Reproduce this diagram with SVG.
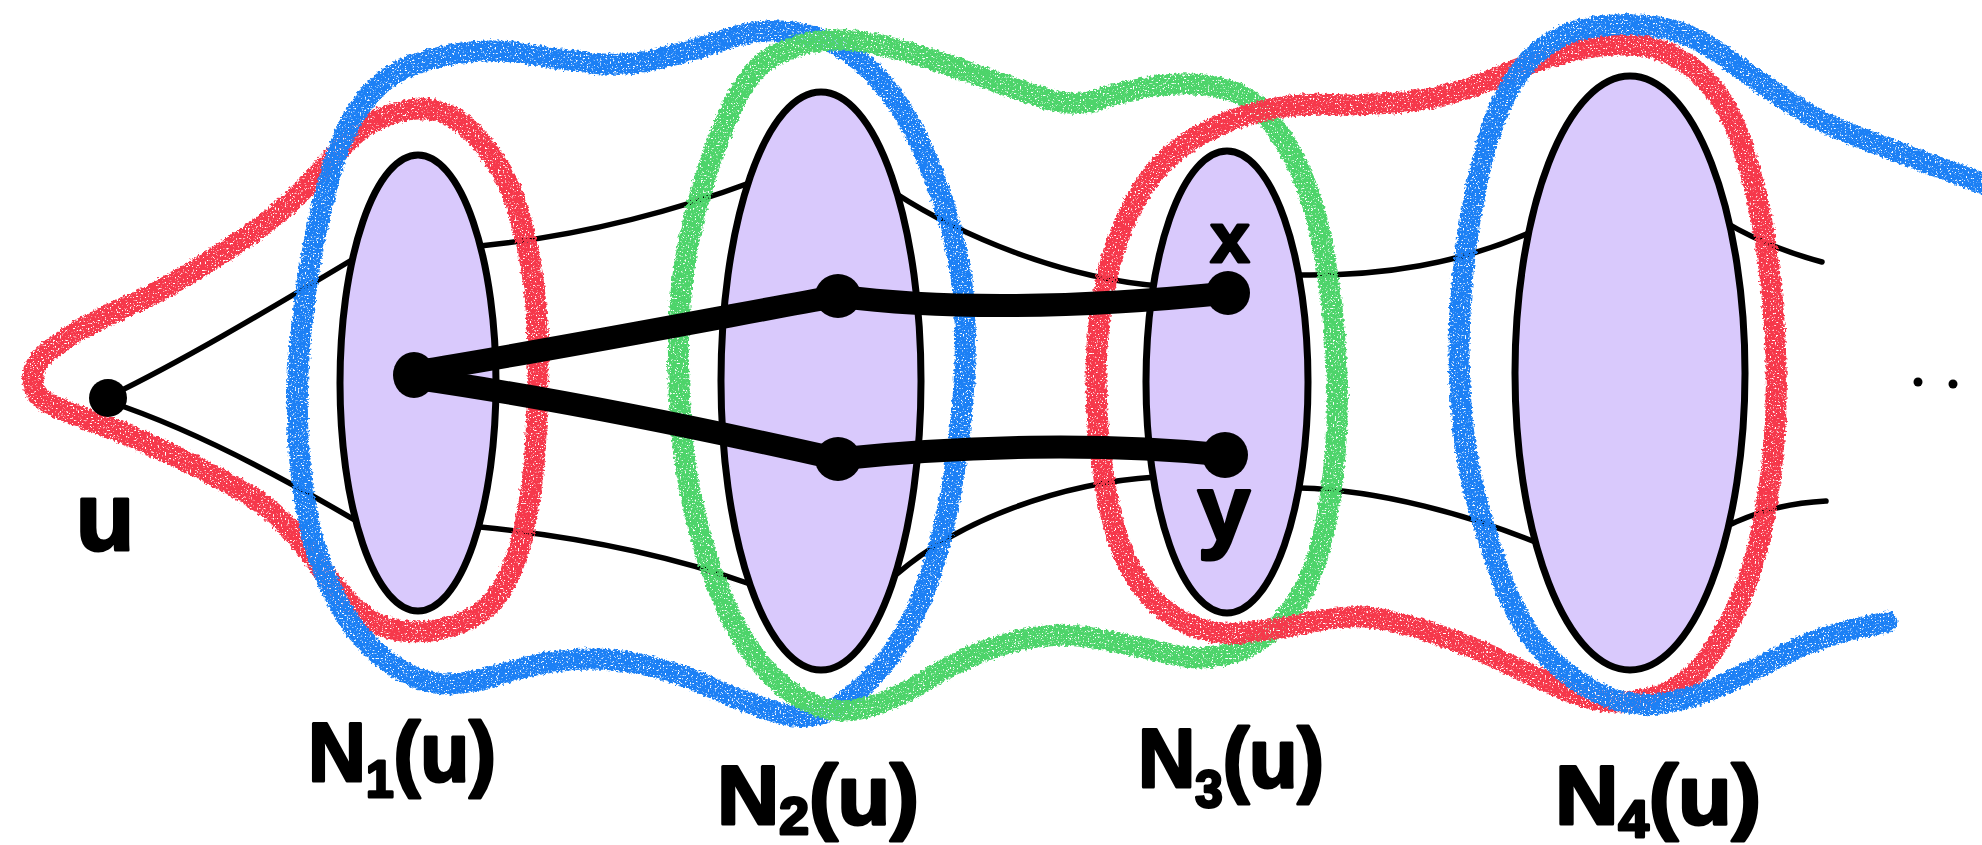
<svg xmlns="http://www.w3.org/2000/svg" width="1982" height="845" viewBox="0 0 1982 845">
<style>
.thin{fill:none;stroke:#000;stroke-width:5.5;stroke-linecap:round}
.thick{fill:none;stroke:#000;stroke-width:23;stroke-linecap:round}
.set{fill:#d9c9fc;stroke:#000;stroke-width:7}
.cr{fill:none;stroke-width:21;stroke-linejoin:round;stroke-linecap:round;filter:url(#crayon)}
.red{stroke:#f6374b}
.blue{stroke:#1a80f5}
.green{stroke:#4dd46b}
.lbl{font-family:"Liberation Sans",Arial,sans-serif;font-weight:bold;fill:#000;stroke:#000;stroke-width:3;stroke-linejoin:round}
</style>
<defs>
<filter id="crayon" x="-5%" y="-5%" width="110%" height="110%">
<feTurbulence type="fractalNoise" baseFrequency="0.35" numOctaves="2" seed="2" result="warp"/>
<feDisplacementMap in="SourceGraphic" in2="warp" scale="6" xChannelSelector="R" yChannelSelector="G" result="rough"/>
<feTurbulence type="fractalNoise" baseFrequency="0.6" numOctaves="2" seed="5" result="grain"/>
<feColorMatrix in="grain" type="matrix" values="0 0 0 0 0  0 0 0 0 0  0 0 0 0 0  7 0 0 0 -1.8" result="gmask"/>
<feComposite in="rough" in2="gmask" operator="in"/>
</filter>
</defs>
<rect width="1982" height="845" fill="#fff"/>

<g id="connectors-thin">
<path class="thin" d="M110,396 C180,362 260,315 355,258"/>
<path class="thin" d="M110,402 C180,425 270,470 358,522"/>
<path class="thin" d="M480,246 C560,238 650,220 752,182"/>
<path class="thin" d="M480,527 C560,535 660,552 750,584"/>
<path class="thin" d="M895,193 C960,235 1060,278 1160,286"/>
<path class="thin" d="M897,574 C960,520 1060,483 1156,477"/>
<path class="thin" d="M1300,275 C1380,276 1460,265 1540,228"/>
<path class="thin" d="M1300,488 C1380,490 1470,515 1545,546"/>
<path class="thin" d="M1725,222 C1755,240 1785,252 1822,262"/>
<path class="thin" d="M1725,527 C1760,510 1790,503 1826,501"/>
</g>

<g id="regions">
<path class="cr red" d="M35.5,366.5 Q40,356 64.5,339.5 Q89,323 122.5,308.5 Q156,294 189.5,273.5 Q223,253 250,234.5 Q277,216 299,194 Q321,172 339,150.5 Q357,129 379.5,118.5 Q402,108 424,109 Q446,110 464,125 Q482,140 497.5,164.5 Q513,189 522,224 Q531,259 534.5,291 Q538,323 538,363.5 Q538,404 535.5,444.5 Q533,485 525.5,522.5 Q518,560 504.5,584.5 Q491,609 468.5,619.5 Q446,630 424,631.5 Q402,633 384,626.5 Q366,620 348,601 Q330,582 317,563 Q304,544 286,525 Q268,506 245.5,493 Q223,480 196.5,466.5 Q170,453 141,440.5 Q112,428 85,418.5 Q58,409 47,402.5 Q36,396 33.5,386.5 Q31,377 35.5,366.5 Z"/>
<path class="cr blue" d="M361.5,105 Q379,81 401.5,70 Q424,59 457.5,53.5 Q491,48 524.5,53.5 Q558,59 591.5,63 Q625,67 660,58.5 Q695,50 728.5,38.5 Q762,27 795.5,32.5 Q829,38 851,54 Q873,70 891,94 Q909,118 924.5,153.5 Q940,189 951,229 Q962,269 964.5,309.5 Q967,350 962.5,404 Q958,458 947,512 Q936,566 918,606.5 Q900,647 875.5,673.5 Q851,700 828.5,711 Q806,722 772.5,711 Q739,700 705.5,685 Q672,670 637.5,663.5 Q603,657 569.5,660 Q536,663 502.5,673.5 Q469,684 446.5,684 Q424,684 397.5,668 Q371,652 350.5,622.5 Q330,593 317,552.5 Q304,512 299.5,458 Q295,404 299.5,350 Q304,296 312.5,250.5 Q321,205 332.5,167 Q344,129 361.5,105 Z"/>
<path class="cr green" d="M728,116 Q708,162 694.5,215.5 Q681,269 679,323 Q677,377 681.5,431 Q686,485 701.5,539 Q717,593 739.5,633 Q762,673 795.5,695 Q829,717 862.5,708.5 Q896,700 929,678.5 Q962,657 1007,643.5 Q1052,630 1096.5,638.5 Q1141,647 1174.5,655 Q1208,663 1241.5,649.5 Q1275,636 1297.5,601 Q1320,566 1330,498.5 Q1340,431 1336.5,363.5 Q1333,296 1322,242.5 Q1311,189 1293,156.5 Q1275,124 1259.5,108 Q1244,92 1215,86.5 Q1186,81 1152.5,86.5 Q1119,92 1096.5,100 Q1074,108 1040.5,97 Q1007,86 962.5,70 Q918,54 884.5,46 Q851,38 824,40.5 Q797,43 772.5,56.5 Q748,70 728,116 Z"/>
<path class="cr red" d="M1263.5,110.5 Q1230,118 1196.5,137 Q1163,156 1141,191 Q1119,226 1107.5,274.5 Q1096,323 1096,377 Q1096,431 1105,485 Q1114,539 1132,571 Q1150,603 1179,619.5 Q1208,636 1241.5,633 Q1275,630 1312.5,622 Q1350,614 1375,618 Q1400,622 1437,634.5 Q1474,647 1506.5,663 Q1539,679 1571.5,692.5 Q1604,706 1637,700.5 Q1670,695 1691.5,676 Q1713,657 1735,611.5 Q1757,566 1767.5,498.5 Q1778,431 1776,363.5 Q1774,296 1765.5,242.5 Q1757,189 1741.5,143 Q1726,97 1698,72.5 Q1670,48 1637,45.5 Q1604,43 1571.5,51 Q1539,59 1495.5,78 Q1452,97 1408.5,101.5 Q1365,106 1331,104.5 Q1297,103 1263.5,110.5 Z"/>
<path class="cr blue" d="M1887,622 L1854.5,629 Q1822,636 1789.5,652 Q1757,668 1724,684 Q1691,700 1658.5,704 Q1626,708 1593.5,690.5 Q1561,673 1539,646.5 Q1517,620 1502,579.5 Q1487,539 1476,498.5 Q1465,458 1461,404 Q1457,350 1461,296 Q1465,242 1476,188.5 Q1487,135 1502,102.5 Q1517,70 1539,51 Q1561,32 1593.5,27 Q1626,22 1658.5,27 Q1691,32 1724,56.5 Q1757,81 1789.5,102.5 Q1822,124 1865.5,140 Q1909,156 1952,172 L1995,188"/>
</g>

<g id="N1">
<ellipse class="set" cx="418" cy="383" rx="78" ry="228"/>
<text class="lbl" x="308" y="781" font-size="84" textLength="188" lengthAdjust="spacingAndGlyphs">N<tspan font-size="52" dy="16">1</tspan><tspan dy="-16">(u)</tspan></text>
</g>
<g id="N2">
<ellipse class="set" cx="821" cy="381" rx="100" ry="289"/>
<text class="lbl" x="717" y="824" font-size="84" textLength="202" lengthAdjust="spacingAndGlyphs">N<tspan font-size="52" dy="10">2</tspan><tspan dy="-10">(u)</tspan></text>
</g>
<g id="N3">
<ellipse class="set" cx="1227" cy="382" rx="81" ry="231"/>
<text class="lbl" x="1138" y="787" font-size="84" textLength="186" lengthAdjust="spacingAndGlyphs">N<tspan font-size="52" dy="20">3</tspan><tspan dy="-20">(u)</tspan></text>
</g>
<g id="N4">
<ellipse class="set" cx="1630" cy="373" rx="115" ry="297"/>
<text class="lbl" x="1555" y="824" font-size="84" textLength="206" lengthAdjust="spacingAndGlyphs">N<tspan font-size="52" dy="13">4</tspan><tspan dy="-13">(u)</tspan></text>
</g>

<g id="connectors-thick">
<path class="thick" d="M414,372 C540,352 680,325 838,296"/>
<path class="thick" d="M414,378 C540,396 700,428 838,459"/>
<path class="thick" d="M838,296 C960,312 1100,306 1228,293"/>
<path class="thick" d="M838,459 C960,446 1100,442 1225,455"/>
</g>

<g id="u">
<circle cx="108" cy="398" r="19"/>
<text class="lbl" x="105" y="550" text-anchor="middle" font-size="96">u</text>
</g>
<g id="v1"><ellipse cx="414" cy="375" rx="21" ry="23"/></g>
<g id="v2a"><ellipse cx="838" cy="296" rx="23" ry="22"/></g>
<g id="v2b"><ellipse cx="838" cy="459" rx="23" ry="22"/></g>
<g id="x">
<circle cx="1228" cy="293" r="22"/>
<text class="lbl" x="1230" y="262" text-anchor="middle" font-size="70">x</text>
</g>
<g id="y">
<circle cx="1225" cy="455" r="23"/>
<text class="lbl" x="1224" y="540" text-anchor="middle" font-size="95">y</text>
</g>
<g id="more">
<circle cx="1918" cy="382" r="4.5"/>
<circle cx="1953" cy="384" r="4.5"/>
</g>
</svg>
